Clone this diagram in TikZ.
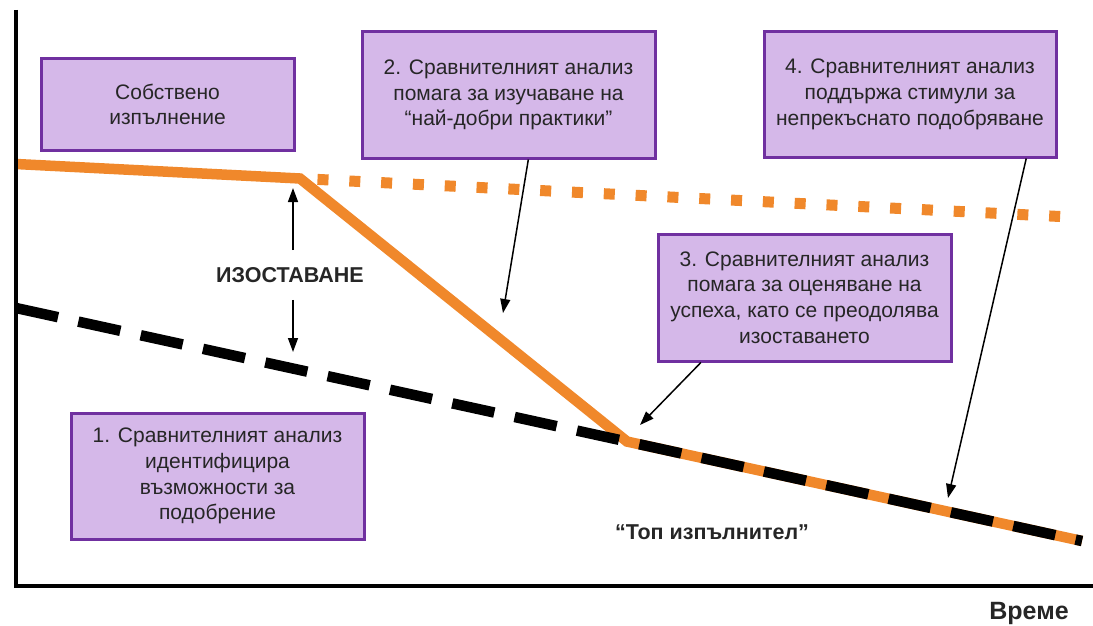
\documentclass[tikz,border=0pt]{standalone}
\usepackage{fontspec}
\setmainfont{Liberation Sans}
\usetikzlibrary{calc,arrows.meta}
\definecolor{orangeL}{HTML}{F0882B}
\definecolor{boxfill}{HTML}{D5B8E9}
\definecolor{boxline}{HTML}{7030A0}
\definecolor{txt}{HTML}{262626}
\tikzset{
  infobox/.style={draw=boxline, fill=boxfill, line width=3pt, align=center,
    inner sep=0pt, text=txt, font=\fontsize{21}{25.8}\selectfont},
  axisline/.style={line width=4.5pt, black},
  orangeline/.style={line width=10.5pt, orangeL, line cap=butt},
  dotline/.style={line width=11pt, orangeL, line cap=butt, dash pattern=on 11pt off 20.85pt},
  blackdash/.style={line width=10.5pt, black, line cap=butt, dash pattern=on 43pt off 20.8pt},
  arr/.style={line width=1.5pt, black, -{Triangle[length=14pt,width=10pt]}},
  boldlabel/.style={font=\bfseries\fontsize{21.5}{24}\selectfont, text=txt, inner sep=0pt}
}
\begin{document}
\begin{tikzpicture}[x=1pt,y=-1pt]
\useasboundingbox (0,0) rectangle (1093,626);
% key coordinates
\coordinate (oStart) at (16,164);
\coordinate (oKink) at (300,178.5);
\coordinate (dStart) at (317.5,179.4);
\coordinate (dEnd) at (1066,216.8);
\coordinate (bStart) at (16,308);
\coordinate (bEnd) at (1082,541);
\coordinate (kink) at ($(bStart)!0.5732!(bEnd)$);
\coordinate (axTop) at (16,10);
\coordinate (axOrigin) at (16,586);
\coordinate (axRight) at (1093,586);
% lines
\draw[orangeline] (oStart) -- (oKink) -- (kink) -- (bEnd);
\draw[dotline] (dStart) -- (dEnd);
\draw[blackdash] (bStart) -- (bEnd);
% axes
\draw[axisline] (axTop) -- (axOrigin) -- (axRight);
% boxes
\node[infobox, minimum width=253pt, minimum height=91pt] (b0) at (167.5,104.5)
  {Собствено\\изпълнение};
\node[infobox, minimum width=293pt, minimum height=126pt] (b2) at (508.5,95)
  {2. Сравнителният анализ\\помага за изучаване на\\“най-добри практики”};
\node[infobox, minimum width=292pt, minimum height=125pt] (b4) at (910,94.5)
  {4. Сравнителният анализ\\поддържа стимули за\\непрекъснато подобряване};
\node[infobox, minimum width=293pt, minimum height=127pt] (b3) at (804.5,297.5)
  {3. Сравнителният анализ\\помага за оценяване на\\успеха, като се преодолява\\изоставането};
\node[infobox, minimum width=293pt, minimum height=126pt] (b1) at (217.5,476)
  {1. Сравнителният анализ\\идентифицира\\възможности за\\подобрение};
% labels
\node[boldlabel] (gap) at (290,275) {ИЗОСТАВАНЕ};
\node[boldlabel] (top) at (712,532) {“Топ изпълнител”};
\node[font=\bfseries\fontsize{25}{28}\selectfont, text=txt, inner sep=0pt] (time) at (1029,613) {Време};
% arrow tips
\coordinate (upTip) at (293,188);
\coordinate (dnTip) at (293,352);
\coordinate (t2) at (503,313);
\coordinate (t3) at (640,425);
\coordinate (t4) at (948,498);
% arrows
\draw[arr] ([xshift=3pt,yshift=17pt]gap.north) -- (upTip);
\draw[arr] ([xshift=3pt,yshift=-17pt]gap.south) -- (dnTip);
\draw[arr] ($(b2.south west)!0.567!(b2.south east)$) -- (t2);
\draw[arr] ($(b3.south west)!0.150!(b3.south east)$) -- (t3);
\draw[arr] ($(b4.south west)!0.894!(b4.south east)$) -- (t4);
\end{tikzpicture}
\end{document}
